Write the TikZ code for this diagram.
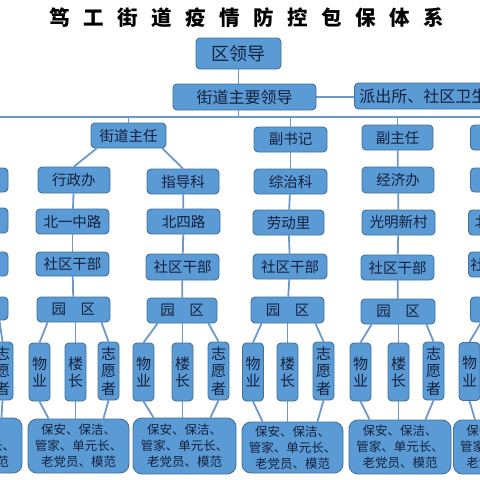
\documentclass[tikz,border=0pt]{standalone}
\usepackage{fontspec}
\setmainfont{Noto Sans CJK SC}
\usetikzlibrary{backgrounds}
\definecolor{boxfill}{HTML}{5B9BD5}
\definecolor{boxedge}{HTML}{41719C}
\definecolor{txt}{HTML}{14213D}
\definecolor{linec}{HTML}{6E98CC}
\newcommand{\tsp}{\hspace{13.5pt}}
\tikzset{
  box/.style={draw=boxedge, fill=boxfill, rounded corners=4pt, line width=0.9pt,
    inner sep=0pt, text=txt, font=\fontsize{14.5}{16}\selectfont,
    minimum height=25pt, minimum width=73pt},
  vbox/.style={box, minimum width=21pt, minimum height=58pt, align=center,
    font=\fontsize{15}{17.5}\selectfont},
  bbox/.style={box, rounded corners=9pt, align=center,
    font=\fontsize{12.5}{16}\selectfont, minimum height=54pt, minimum width=101pt},
  conn/.style={draw=linec, line width=1.8pt},
}
\begin{document}
\begin{tikzpicture}[x=1pt,y=-1pt]
\useasboundingbox (0,0) rectangle (480,480);
\clip (0,0) rectangle (480,480);
% title
\node[font=\bfseries\fontsize{20.5}{22}\selectfont, text=black] (title) at (246.5,18)
  {笃\tsp 工\tsp 街\tsp 道\tsp 疫\tsp 情\tsp 防\tsp 控\tsp 包\tsp 保\tsp 体\tsp 系};
% top levels
\node[box, minimum width=85pt, minimum height=31pt, font=\fontsize{18}{20}\selectfont] (lingdao) at (238.5,53.5) {区领导};
\node[box, minimum width=143pt, minimum height=26pt, font=\fontsize{16}{18}\selectfont] (jiedao) at (244.5,97) {街道主要领导};
\node[box, anchor=west, minimum width=150pt, text width=140pt, align=left, minimum height=26pt, font=\fontsize{16}{18}\selectfont] (paichu) at (354,96) {派出所、社区卫生};
\coordinate (busL) at (0,117);
\coordinate (busR) at (480,117);
% level 2
\node[box, minimum width=75pt] (zhuren) at (128.5,135.5) {街道主任};
\node[box] (fushuji) at (290.5,139.5) {副书记};
\node[box, minimum width=71pt] (fuzhuren) at (397.5,137.5) {副主任};
\node[box, anchor=west, minimum width=72pt] (R2) at (470,137.5) {};
% level 3
\node[box, minimum width=72pt, minimum height=26pt] (xingzheng) at (74,180) {行政办};
\node[box, minimum width=72pt] (zhidao) at (183,181.5) {指导科};
\node[box] (zongzhi) at (290.5,181.5) {综治科};
\node[box, minimum width=72pt, minimum height=26pt] (jingji) at (398,180) {经济办};
\node[box, minimum width=72pt, minimum height=24pt] (L3) at (-28,180) {};
\node[box, anchor=west, minimum width=72pt, minimum height=24pt] (R3) at (470,180) {};
% level 4
\node[box] (beiyi) at (72.5,221.5) {北一中路};
\node[box] (beisi) at (183.5,221.5) {北四路};
\node[box, minimum width=71pt] (laodong) at (288.5,222.5) {劳动里};
\node[box] (guangming) at (398.5,222.5) {光明新村};
\node[box] (L4) at (-28.5,220.5) {};
\node[box, anchor=west, text width=60pt, align=left] (R4) at (468,222.5) {北};
% level 5
\node[box, minimum height=24pt] (sq1) at (72.5,264) {社区干部};
\node[box, minimum height=26pt] (sq2) at (182.5,267) {社区干部};
\node[box, minimum width=74pt] (sq3) at (290,266.5) {社区干部};
\node[box] (sq4) at (397.5,267.5) {社区干部};
\node[box, minimum height=24pt] (L5) at (-28.5,264) {};
\node[box, anchor=west, text width=69pt, align=left] (R5) at (468,264.5) {社};
% level 6
\node[box] (yq1) at (73.5,309.5) {园　区};
\node[box, minimum width=70pt] (yq2) at (182,310.5) {园　区};
\node[box, minimum height=26pt] (yq3) at (287.5,310) {园　区};
\node[box, minimum width=74pt] (yq4) at (398,311.5) {园　区};
\node[box, minimum height=23pt] (L6) at (-28.5,308.5) {};
\node[box, anchor=west] (R6) at (470,309.5) {};
% level 7
\node[vbox] (wu1) at (39.5,372) {物\\业};
\node[vbox] (lou1) at (75.5,372) {楼\\长};
\node[vbox] (zhi1) at (108.5,371) {志\\愿\\者};
\node[vbox] (wu2) at (143.5,372) {物\\业};
\node[vbox] (lou2) at (182.5,372) {楼\\长};
\node[vbox] (zhi2) at (218.5,371) {志\\愿\\者};
\node[vbox] (wu3) at (253,372) {物\\业};
\node[vbox] (lou3) at (287.5,372) {楼\\长};
\node[vbox] (zhi3) at (323.5,371) {志\\愿\\者};
\node[vbox] (wu4) at (360.5,372) {物\\业};
\node[vbox] (lou4) at (398.5,372) {楼\\长};
\node[vbox] (zhi4) at (433.5,371) {志\\愿\\者};
\node[vbox] (zhi0) at (2.5,371) {志\\愿\\者};
\node[vbox] (wu5) at (469.5,371.5) {物\\业};
% level 8
\node[bbox] (b1) at (78.5,446) {保安、保洁、\\管家、单元长、\\老党员、模范};
\node[bbox, minimum width=103pt, minimum height=56pt] (b2) at (184.5,446) {保安、保洁、\\管家、单元长、\\老党员、模范};
\node[bbox, minimum height=51pt] (b3) at (292.5,447.5) {保安、保洁、\\管家、单元长、\\老党员、模范};
\node[bbox, minimum width=102pt] (b4) at (400,447) {保安、保洁、\\管家、单元长、\\老党员、模范};
\node[bbox, minimum height=55pt] (L8) at (-28.5,445.5) {保安、保洁、\\管家、单元长、\\老党员、模范};
\node[bbox, anchor=west] (R8) at (453,447) {保安、保洁、\\管家、单元长、\\老党员、模范};
% connectors
\begin{scope}[on background layer]
\draw[conn] (lingdao.south) -- (lingdao.south |- jiedao.north);
\draw[conn] (jiedao.east) -- (paichu.west |- jiedao.east);
\draw[conn] (lingdao.south |- jiedao.south) -- (lingdao.south |- busL);
\draw[conn] (busL) -- (busR);
\draw[conn] (zhuren.north) -- (zhuren.north |- busL);
\draw[conn] (fushuji.north) -- (fushuji.north |- busL);
\draw[conn] (fuzhuren.north) -- (fuzhuren.north |- busL);
\draw[conn] ([xshift=6pt]zhuren.south west) -- (xingzheng.north);
\draw[conn] ([xshift=-4pt]zhuren.south east) -- (zhidao.north);
\draw[conn] (fushuji) -- (zongzhi);
\draw[conn] (fuzhuren) -- (jingji);
\draw[conn] (xingzheng) -- (beiyi);
\draw[conn] (zhidao) -- (beisi);
\draw[conn] (zongzhi) -- (laodong);
\draw[conn] (jingji) -- (guangming);
\draw[conn] (beiyi) -- (sq1);
\draw[conn] (beisi) -- (sq2);
\draw[conn] (laodong) -- (sq3);
\draw[conn] (guangming) -- (sq4);
\draw[conn] (sq1) -- (yq1);
\draw[conn] (sq2) -- (yq2);
\draw[conn] (sq3) -- (yq3);
\draw[conn] (sq4) -- (yq4);
\foreach \y/\w/\l/\z/\b in {yq1/wu1/lou1/zhi1/b1, yq2/wu2/lou2/zhi2/b2, yq3/wu3/lou3/zhi3/b3, yq4/wu4/lou4/zhi4/b4}{
  \draw[conn] ([xshift=11pt]\y.south west) -- (\w.north);
  \draw[conn] (\l.north |- \y.south) -- (\l.north);
  \draw[conn] ([xshift=-9pt]\y.south east) -- (\z.north);
  \draw[conn] (\w.south) -- ([xshift=21pt]\b.north west);
  \draw[conn] (\l.south) -- (\l.south |- \b.north);
  \draw[conn] (\z.south) -- ([xshift=-26pt]\b.north east);
}
\draw[conn] ([xshift=-9pt]L6.south east) -- (zhi0.north);
\draw[conn] (zhi0.south) -- ([xshift=-21pt]L8.north east);
\draw[conn] ([xshift=11pt]R6.south west) -- (wu5.north);
\draw[conn] (wu5.south) -- ([xshift=22pt]R8.north west);
\end{scope}
\end{tikzpicture}
\end{document}
